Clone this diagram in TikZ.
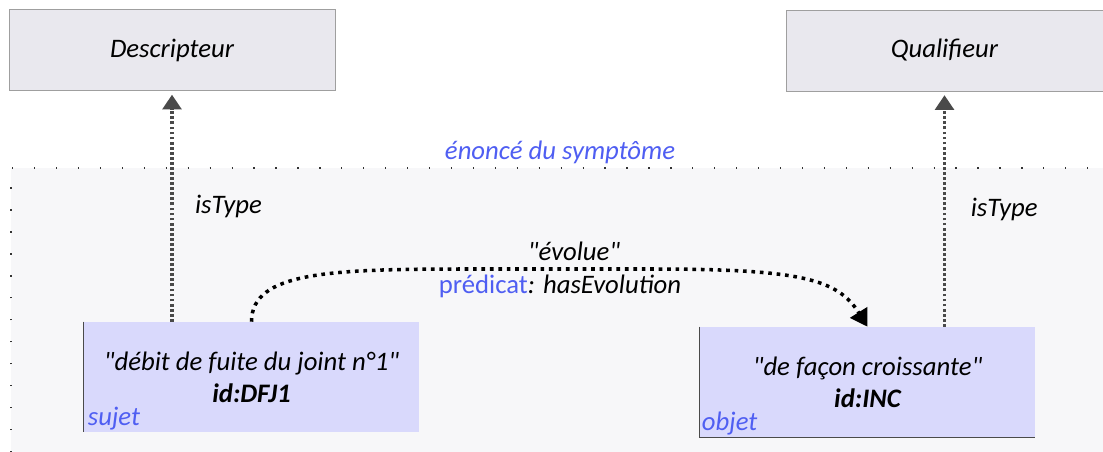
\documentclass[tikz,border=0pt]{standalone}
\usepackage{fontspec}
\setmainfont{Carlito}[Ligatures=TeXOff]
\usepackage{tikz}
\usetikzlibrary{arrows.meta, positioning}
\definecolor{typegray}{HTML}{E9E8EE}
\definecolor{bggray}{HTML}{F7F7F9}
\definecolor{instlav}{HTML}{D9D9FC}
\definecolor{roleblue}{HTML}{4F5EF2}
\definecolor{linegray}{HTML}{4A4A4A}
\newcommand{\diagfont}{\fontsize{19}{22.7}\selectfont}
\tikzstyle{typebox} = [rectangle, minimum width=8.15cm, minimum height=2.025cm, text centered, draw=gray!75, fill=typegray, font=\diagfont\itshape]
\tikzstyle{instbox} = [rectangle, minimum width=8.375cm, minimum height=2.75cm, align=center, fill=instlav, font=\diagfont\itshape]
\tikzstyle{rolelabel} = [inner sep=0pt, text=roleblue, font=\diagfont\itshape]
\tikzstyle{linklabel} = [font=\diagfont\itshape]
\tikzstyle{isarrow} = [draw=linegray, line width=2.2pt, dash pattern=on 2pt off 1.6pt, -{Triangle[width=13.5pt, length=10.5pt, fill=linegray]}]
\tikzstyle{evolarrow} = [draw=black, line width=2.5pt, dash pattern=on 2.6pt off 3.4pt, -{Triangle[width=14pt, length=12pt]}]
\tikzstyle{regionedge} = [draw=black!80, line width=0.9pt, dash pattern=on 0.9pt off 14.7pt]

\begin{document}
\begin{tikzpicture}[x=0.025cm, y=-0.025cm]
\useasboundingbox (0,0) rectangle (1103,452);
% statement area
\fill [bggray] (11,168) rectangle (1103,452);
\draw [regionedge] (11,452) -- (11,168) -- (1103,168);
\node (enonce) [linklabel, text=roleblue] at (560,152) {énoncé du symptôme};

\node (desc) [typebox] at (172,50) {Descripteur};
\node (qual) [typebox, minimum width=7.925cm] at (944.5,50.5) {Qualifieur};
\node (sujet) [instbox] at (251.5,377) {"débit de fuite du joint n°1"\\ \textbf{id:DFJ1}};
\node (objet) [instbox] at (867.5,382) {"de façon croissante"\\ \textbf{id:INC}};
\draw [linegray, line width=0.9pt] (sujet.north west) -- (sujet.south west);
\draw [linegray, line width=0.9pt] (objet.north west) -- (objet.south west) -- (objet.south east);
\node (sujetrole) [rolelabel, anchor=base west] at ([shift={(4,-7)}]sujet.south west) {sujet};
\node (objetrole) [rolelabel, anchor=base west] at ([shift={(2,-7)}]objet.south west) {objet};

\coordinate (evoA) at (470,269);
\coordinate (evoB) at (650,269);

\draw [isarrow, shorten >=2.8pt] (desc.south |- sujet.north) -- node [linklabel, anchor=west, xshift=0.42cm] {isType} (desc.south);
\draw [isarrow, shorten >=2.8pt] (qual.south |- objet.north) -- node [linklabel, anchor=west, xshift=0.5cm] {isType} (qual.south);
\draw [evolarrow] (sujet.north) .. controls +(0,-50) and +(-140,0) .. (evoA)
  -- node [linklabel, above, xshift=0.35cm, yshift=0.05cm] {"évolue"} node [linklabel, below] {{\upshape\color{roleblue}prédicat}: hasEvolution} (evoB)
  .. controls +(150,0) and +(-30,-48) .. (objet.north);
\end{tikzpicture}
\end{document}
